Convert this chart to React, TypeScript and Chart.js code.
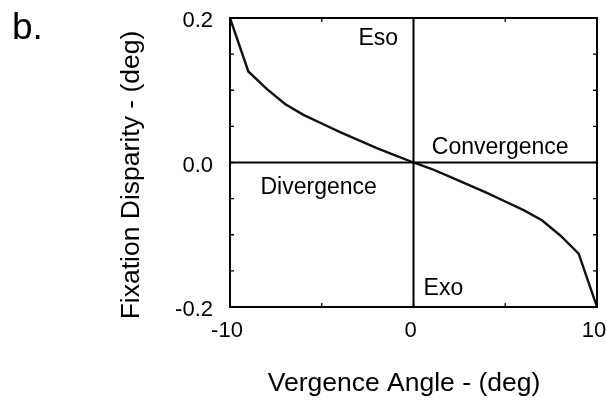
import React, { useEffect, useRef } from "react";
import { Chart, registerables } from "chart.js";

Chart.register(...registerables);

// Vergence angle (deg) and the resulting fixation disparity (deg)
const vergenceAngle = [-10, -9, -8, -7, -6, -5, -4, -3, -2, -1, 0, 1, 2, 3, 4, 5, 6, 7, 8, 9, 10];
const fixationDisparity = [
  0.2, 0.126, 0.102, 0.081, 0.066, 0.054, 0.042, 0.031, 0.02, 0.01, 0,
  -0.009, -0.02, -0.031, -0.042, -0.054, -0.066, -0.08, -0.101, -0.126, -0.2,
];

const xLabelValues = [-10, 0, 10];
const yLabelValues = [0.2, 0, -0.2];

// Quadrant captions, anchored in data units (left edge, baseline)
const quadrantText = ["Eso", "Convergence", "Divergence", "Exo"];
const quadrantX = [-3.0, 1.0, -8.34, 0.55];
const quadrantY = [0.1626, 0.0118, -0.0436, -0.1834];

const panelLabel = "b.";
const xTitle = "Vergence Angle - (deg)";
const yTitle = "Fixation Disparity - (deg)";
const FONT = "'Liberation Sans', Arial, Helvetica, sans-serif";

const framePlugin = {
  id: "frame",
  afterDatasetsDraw(chart: any) {
    const { ctx, chartArea: a, scales } = chart;
    const xs = scales.x;
    const ys = scales.y;
    ctx.save();
    ctx.strokeStyle = "#000";

    // inward tick marks on all four sides
    ctx.lineWidth = 1.3;
    const tl = 4;
    ctx.beginPath();
    xs.ticks.forEach((t: any) => {
      const px = xs.getPixelForValue(t.value);
      ctx.moveTo(px, a.top);
      ctx.lineTo(px, a.top + tl);
      ctx.moveTo(px, a.bottom);
      ctx.lineTo(px, a.bottom - tl);
    });
    ys.ticks.forEach((t: any) => {
      const py = ys.getPixelForValue(t.value);
      ctx.moveTo(a.left, py);
      ctx.lineTo(a.left + tl, py);
      ctx.moveTo(a.right, py);
      ctx.lineTo(a.right - tl, py);
    });
    ctx.stroke();

    // zero axes
    ctx.lineWidth = 2;
    const x0 = xs.getPixelForValue(0);
    const y0 = ys.getPixelForValue(0);
    ctx.beginPath();
    ctx.moveTo(a.left, y0);
    ctx.lineTo(a.right, y0);
    ctx.moveTo(x0, a.top);
    ctx.lineTo(x0, a.bottom);
    ctx.stroke();

    // frame
    ctx.strokeRect(a.left, a.top, a.right - a.left, a.bottom - a.top);

    // quadrant captions
    ctx.fillStyle = "#000";
    ctx.font = `23px ${FONT}`;
    ctx.textAlign = "left";
    ctx.textBaseline = "alphabetic";
    quadrantText.forEach((s, i) => {
      ctx.fillText(s, xs.getPixelForValue(quadrantX[i]), ys.getPixelForValue(quadrantY[i]));
    });

    // axis titles
    ctx.font = `26.5px ${FONT}`;
    ctx.textAlign = "center";
    ctx.textBaseline = "middle";
    ctx.fillText(xTitle, 404, 384);
    ctx.save();
    ctx.translate(132, 175);
    ctx.rotate(-Math.PI / 2);
    ctx.fillText(yTitle, 0, 0);
    ctx.restore();

    // panel label
    ctx.font = `37px ${FONT}`;
    ctx.textAlign = "left";
    ctx.textBaseline = "alphabetic";
    ctx.fillText(panelLabel, 12, 39);
    ctx.restore();
  },
};

export default function App() {
  const ref = useRef<HTMLCanvasElement | null>(null);

  useEffect(() => {
    if (!ref.current) return;
    const chart = new Chart(ref.current, {
      type: "line",
      data: {
        datasets: [
          {
            data: vergenceAngle.map((x, i) => ({ x, y: fixationDisparity[i] })),
            borderColor: "#111",
            borderWidth: 2.4,
            pointRadius: 0,
            tension: 0,
            fill: false,
          },
        ],
      },
      options: {
        animation: false,
        responsive: false,
        maintainAspectRatio: false,
        layout: { padding: { top: 18, right: 10, left: 0, bottom: 0 } },
        plugins: { legend: { display: false }, tooltip: { enabled: false } },
        scales: {
          x: {
            type: "linear",
            min: -10,
            max: 10,
            border: { display: false },
            grid: { display: false, drawTicks: false },
            ticks: {
              stepSize: 5,
              autoSkip: false,
              maxRotation: 0,
              padding: 11,
              labelOffset: -3,
              color: "#000",
              font: { family: FONT, size: 22 },
              callback: (v: any) => (xLabelValues.includes(Number(v)) ? String(v) : ""),
            },
            afterFit: (s: any) => {
              s.height = 93;
              s.paddingLeft = 0;
              s.paddingRight = 0;
            },
          },
          y: {
            type: "linear",
            min: -0.2,
            max: 0.2,
            border: { display: false },
            grid: { display: false, drawTicks: false },
            ticks: {
              stepSize: 0.05,
              autoSkip: false,
              padding: 17,
              labelOffset: 3,
              color: "#000",
              font: { family: FONT, size: 22 },
              callback: (v: any) => {
                const n = Number(v);
                return yLabelValues.some((w) => Math.abs(w - n) < 1e-9) ? n.toFixed(1) : "";
              },
            },
            afterFit: (s: any) => {
              s.width = 230;
              s.paddingTop = 0;
              s.paddingBottom = 0;
            },
          },
        },
      },
      plugins: [framePlugin],
    });
    return () => chart.destroy();
  }, []);

  return (
    <div style={{ position: "absolute", left: 0, top: 0, width: 607, height: 400, background: "#fff" }}>
      <canvas ref={ref} width={607} height={400} style={{ width: 607, height: 400, display: "block" }} />
    </div>
  );
}
